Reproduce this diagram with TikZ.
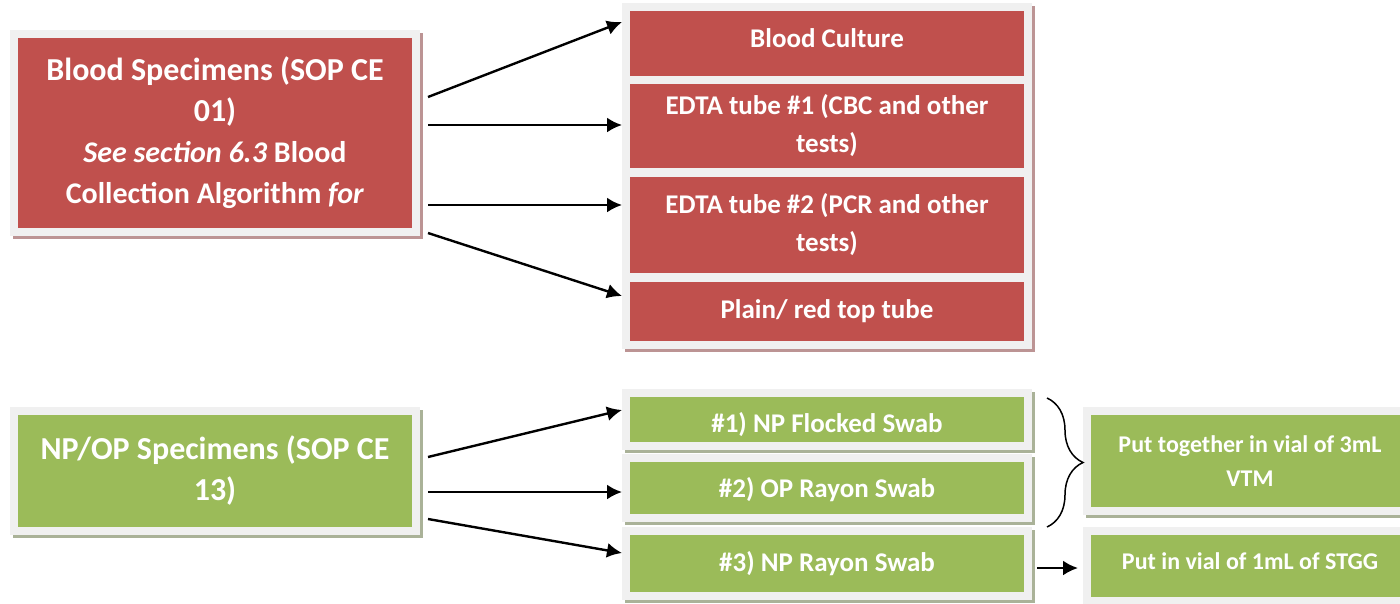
\documentclass[tikz,border=0pt]{standalone}
\usepackage{fontspec}
\setmainfont{Carlito}
\usetikzlibrary{calc,arrows.meta,decorations.pathreplacing,backgrounds}
\definecolor{bloodred}{RGB}{192,80,77}
\definecolor{swabgreen}{RGB}{155,187,89}
\definecolor{framegrey}{RGB}{240,240,240}
\definecolor{redshade}{RGB}{188,148,148}
\definecolor{greenshade}{RGB}{170,178,152}
\tikzset{
  specbox/.style={draw=framegrey, line width=8pt, text=white, align=center, inner sep=0pt},
  redbox/.style={specbox, fill=bloodred},
  greenbox/.style={specbox, fill=swabgreen},
  bigtext/.style={font=\fontsize{32}{41}\selectfont\bfseries},
  midtext/.style={font=\fontsize{27}{38}\selectfont\bfseries},
  smalltext/.style={font=\fontsize{24}{34}\selectfont\bfseries},
  conn/.style={line width=2.4pt, -{Latex[length=15pt,width=15pt]}},
}
\newcommand{\boxshade}[2]{\fill[#2] ($(#1.north west)+(3,3)$) rectangle ($(#1.south east)+(3,3)$);}
\newcommand{\seealgo}[1]{{\fontsize{30}{41}\selectfont #1}}
\newcommand{\nudge}[2]{\raisebox{#1}[\height][\depth]{#2}}

\begin{document}
\begin{tikzpicture}[x=1pt,y=-1pt]
		%%%%% START %%%%%
		\useasboundingbox (0,0) rectangle (1400,603);
		
		% blood side
		\node[redbox, bigtext, minimum width=402pt, minimum height=198pt] (blood) at (215,133)
		  {Blood Specimens (SOP CE\\ 01)\\ \seealgo{\textit{See section 6.3} Blood}\\ \seealgo{Collection Algorithm \textit{for}}};
		\node[redbox, midtext, minimum width=402pt, minimum height=73pt] (culture) at (827,43.5) {\nudge{5pt}{Blood Culture}};
		\node[redbox, midtext, minimum width=402pt, minimum height=92pt] (edtaone) at (827,126) {EDTA tube \#1 (CBC and other\\ tests)};
		\node[redbox, midtext, minimum width=402pt, minimum height=104pt] (edtatwo) at (827,225) {EDTA tube \#2 (PCR and other\\ tests)};
		\node[redbox, midtext, minimum width=402pt, minimum height=67pt] (plain) at (827,311.5) {Plain/ red top tube};
		
		% swab side
		\node[greenbox, bigtext, minimum width=402pt, minimum height=120pt] (swabs) at (215,471) {NP/OP Specimens (SOP CE\\ 13)};
		\node[greenbox, midtext, minimum width=402pt, minimum height=53pt] (npflock) at (827,419.5) {\nudge{-5pt}{\#1) NP Flocked Swab}};
		\node[greenbox, midtext, minimum width=402pt, minimum height=60pt] (oprayon) at (827,488) {\nudge{-2pt}{\#2) OP Rayon Swab}};
		\node[greenbox, midtext, minimum width=402pt, minimum height=65pt] (nprayon) at (827,563.5) {\#3) NP Rayon Swab};
		\node[greenbox, smalltext, minimum width=326pt, minimum height=100pt] (vtm) at (1250,461) {Put together in vial of 3mL\\ VTM};
		\node[greenbox, smalltext, minimum width=326pt, minimum height=70pt] (stgg) at (1250,566) {\nudge{5pt}{Put in vial of 1mL of STGG}};
		
		\begin{scope}[on background layer]
		  \foreach \b in {blood,culture,edtaone,edtatwo,plain}
		    {\boxshade{\b}{redshade}}
		  \foreach \b in {swabs,npflock,oprayon,nprayon,vtm,stgg}
		    {\boxshade{\b}{greenshade}}
		\end{scope}
		
		\draw[conn] ($(blood.east)+(8,-36)$) -- ($(culture.west)+(0,-21.5)$);
		\draw[conn] ($(blood.east)+(8,-8)$) -- ($(edtaone.west)+(0,-1)$);
		\draw[conn] ($(blood.east)+(8,72)$) -- ($(edtatwo.west)+(0,-20)$);
		\draw[conn] ($(blood.east)+(8,100)$) -- ($(plain.west)+(0,-15.5)$);
		
		\draw[conn] ($(swabs.east)+(8,-14)$) -- ($(npflock.west)+(0,-9.5)$);
		\draw[conn] ($(swabs.east)+(8,21)$) -- ($(oprayon.west)+(0,4)$);
		\draw[conn] ($(swabs.east)+(8,48)$) -- ($(nprayon.west)+(0,-10.5)$);
		\draw[conn] ($(nprayon.east)+(5,4.5)$) -- ($(stgg.west)+(-5,2)$);
		
		\coordinate (bracetop) at ($(npflock.north east)+(15,9)$);
		\coordinate (bracebot) at ($(oprayon.south east)+(15,5)$);
		\draw[line width=1.5pt, decorate, decoration={brace, amplitude=36pt}] (bracetop) -- (bracebot);
		
		%%%%% END %%%%%
\end{tikzpicture}
\end{document}
